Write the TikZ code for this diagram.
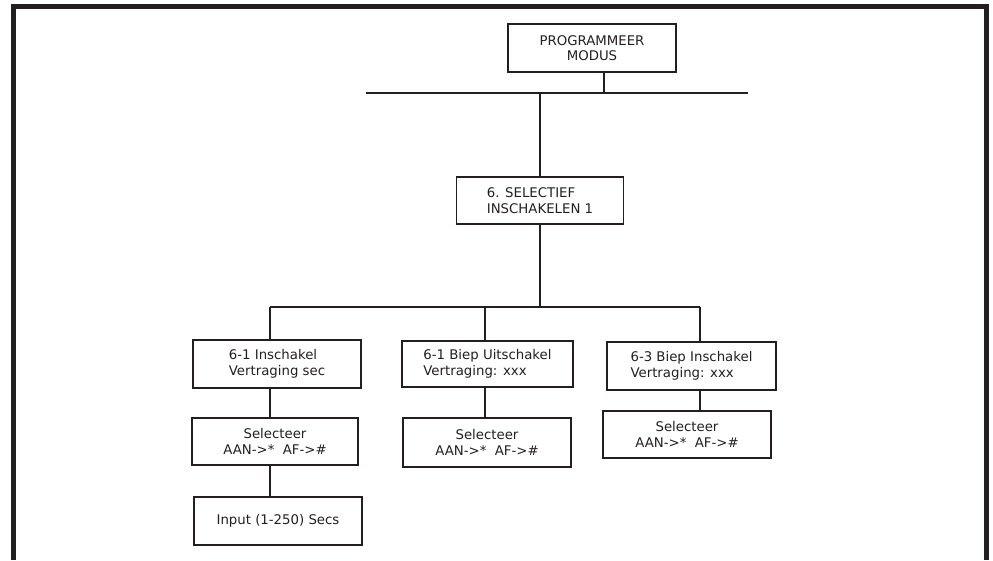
\documentclass[tikz,border=0pt]{standalone}
\usepackage{fontspec}
\setmainfont{DejaVu Sans}
\definecolor{ink}{RGB}{35,31,32}
\tikzset{
  blok/.style={draw=ink, line width=1.8pt, minimum width=168, minimum height=48,
    inner sep=0pt, align=center, text=ink, font=\fontsize{13.3}{15.5}\selectfont},
  lijn/.style={draw=ink, line width=1.8pt},
}
\begin{document}
\begin{tikzpicture}[x=1pt, y=-1pt]
  % Kader (onderkant open)
  \useasboundingbox (0,0) rectangle (993,560);
  \draw[ink, line width=5pt] (13.5,560) -- (13.5,6.5) -- (986.5,6.5) -- (986.5,560);

  % Bovenste niveau
  \node[blok] (prog) at (592,48) {PROGRAMMEER\\MODUS};
  \coordinate (balkL) at (366,93);
  \coordinate (balkR) at (748,93);
  \coordinate (progvoet) at (604,93);
  \draw[lijn] (balkL) -- (balkR);
  \draw[lijn] (progvoet) -- (progvoet |- prog.south);

  % Menu 6
  \node[blok, minimum width=167, minimum height=47, align=left] (menu6) at (540,200.5)
    {6. SELECTIEF\\INSCHAKELEN 1};
  \draw[lijn] (menu6.north) -- (menu6.north |- balkL);

  % Tweede balk met drie takken
  \coordinate (tak1) at (270,307);
  \coordinate (tak2) at (485,307);
  \coordinate (tak3) at (700,307);
  \draw[lijn] (menu6.south) -- (menu6.south |- tak1);
  \draw[lijn] (tak1) -- (tak3);

  % Opties
  \node[blok, align=left] (opt1) at (277,364) {6-1 Inschakel\\Vertraging sec};
  \node[blok, align=left, minimum width=171, minimum height=46] (opt2) at (487.5,364)
    {6-1 Biep Uitschakel\\Vertraging: xxx};
  \node[blok, align=left, minimum width=169] (opt3) at (691.5,366)
    {6-3 Biep Inschakel\\Vertraging: xxx};
  \draw[lijn] (tak1) -- (tak1 |- opt1.north);
  \draw[lijn] (tak2) -- (tak2 |- opt2.north);
  \draw[lijn] (tak3) -- (tak3 |- opt3.north);

  % Selecteer AAN/AF
  \node[blok, minimum width=166, minimum height=47] (kies1) at (275,441.5)
    {Selecteer\\AAN->*~~AF->\#};
  \node[blok, minimum height=49] (kies2) at (487,442.5) {Selecteer\\AAN->*~~AF->\#};
  \node[blok, minimum height=47] (kies3) at (687,434.5) {Selecteer\\AAN->*~~AF->\#};
  \draw[lijn] (opt1.south -| tak1) -- (kies1.north -| tak1);
  \draw[lijn] (opt2.south -| tak2) -- (kies2.north -| tak2);
  \draw[lijn] (opt3.south -| tak3) -- (kies3.north -| tak3);

  % Invoer van de vertraging
  \node[blok] (invoer) at (278,521) {Input (1-250) Secs};
  \draw[lijn] (kies1.south -| tak1) -- (invoer.north -| tak1);
\end{tikzpicture}
\end{document}
